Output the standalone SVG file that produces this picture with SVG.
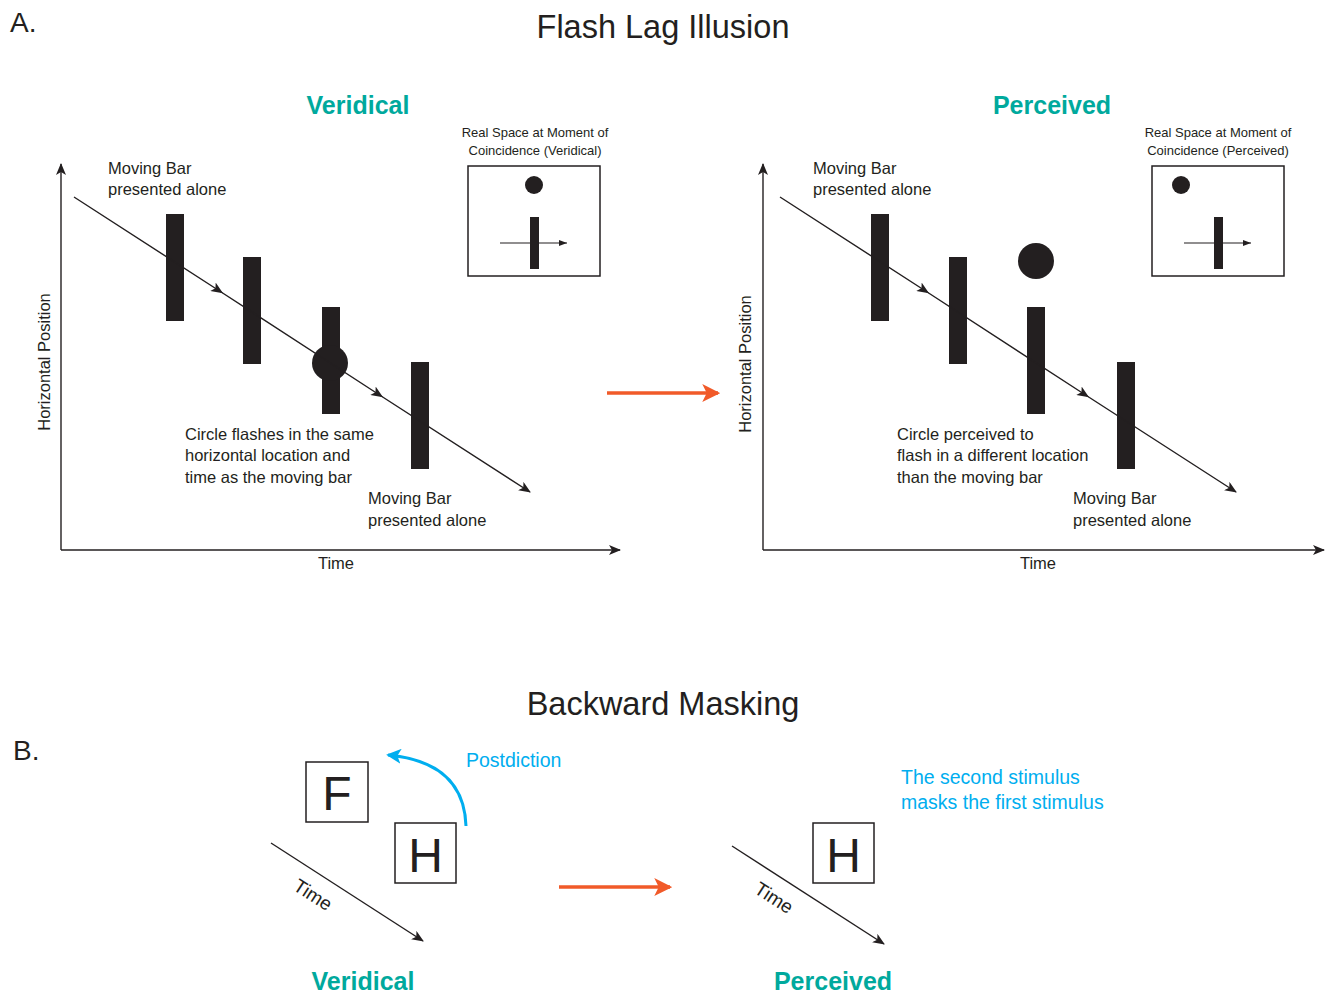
<svg xmlns="http://www.w3.org/2000/svg" width="1326" height="995" viewBox="0 0 1326 995">
<defs>
<style>
text{font-family:"Liberation Sans","Noto Sans",Arial,sans-serif;fill:#231f20}
.lbl{font-size:16.5px}
.small{font-size:13px}
.title{font-size:32.5px;text-anchor:middle}
.head{font-size:25px;font-weight:bold;fill:#00a99d;text-anchor:middle}
.blue{fill:#00aeef;font-size:19.5px}
.ln{stroke:#231f20;stroke-width:1.4;fill:none}
.bar{fill:#231f20}
.box{fill:#fff;stroke:#231f20;stroke-width:1.5}
.orange{stroke:#f15a29;stroke-width:3.5;fill:none}
.letter{font-size:48px;text-anchor:middle}
</style>
<marker id="ah" viewBox="0 0 12 10" refX="11" refY="5" markerWidth="12" markerHeight="10" markerUnits="userSpaceOnUse" orient="auto">
<path d="M0,0 L12,5 L0,10 L3,5 z" fill="#231f20"/>
</marker>
<marker id="mid" viewBox="0 0 12 10" refX="6" refY="5" markerWidth="12" markerHeight="10" markerUnits="userSpaceOnUse" orient="auto">
<path d="M0,0 L12,5 L0,10 L3,5 z" fill="#231f20"/>
</marker>
<marker id="ahs" viewBox="0 0 8 6" refX="8" refY="3" markerWidth="8" markerHeight="6" markerUnits="userSpaceOnUse" orient="auto">
<path d="M0,0 L8,3 L0,6 z" fill="#231f20"/>
</marker>
<marker id="ao" viewBox="0 0 16 16" refX="14" refY="8" markerWidth="18" markerHeight="18" markerUnits="userSpaceOnUse" orient="auto">
<path d="M0,0 L16,8 L0,16 L4,8 z" fill="#f15a29"/>
</marker>
<marker id="ab" viewBox="0 0 16 16" refX="14" refY="8" markerWidth="15" markerHeight="15" markerUnits="userSpaceOnUse" orient="auto">
<path d="M0,0 L16,8 L0,16 L4,8 z" fill="#00aeef"/>
</marker>
</defs>
<rect width="1326" height="995" fill="#fff"/>

<text x="10" y="32" style="font-size:28px">A.</text>
<text x="663" y="38" class="title">Flash Lag Illusion</text>
<text x="13" y="760" style="font-size:28px">B.</text>
<text x="663" y="715" class="title">Backward Masking</text>

<g id="panel-veridical">
<text x="358" y="114" class="head">Veridical</text>
<g id="v-axes">
<path class="ln" d="M61,550 L61,164" marker-end="url(#ah)"/>
<path class="ln" d="M61,550 L620,550" marker-end="url(#ah)"/>
<text x="336" y="569" class="lbl" text-anchor="middle">Time</text>
<text transform="translate(50,362) rotate(-90)" class="lbl" text-anchor="middle">Horizontal Position</text>
</g>
<g id="v-bars">
<rect class="bar" x="166" y="214" width="18" height="107"/>
<rect class="bar" x="243" y="257" width="18" height="107"/>
<rect class="bar" x="322" y="307" width="18" height="107"/>
<rect class="bar" x="411" y="362" width="18" height="107"/>
</g>
<circle id="v-flash" cx="330" cy="363" r="18" fill="#231f20"/>
<g id="v-texts" class="lbl">
<text x="108" y="174">Moving Bar</text>
<text x="108" y="195">presented alone</text>
<text x="185" y="440">Circle flashes in the same</text>
<text x="185" y="461">horizontal location and</text>
<text x="185" y="483">time as the moving bar</text>
<text x="368" y="504">Moving Bar</text>
<text x="368" y="526">presented alone</text>
</g>
<g id="v-inset">
<text x="535" y="137" class="small" text-anchor="middle">Real Space at Moment of</text>
<text x="535" y="155" class="small" text-anchor="middle">Coincidence (Veridical)</text>
<rect class="box" x="468" y="166" width="132" height="110"/>
<circle cx="534" cy="185" r="9" fill="#231f20"/>
<path class="ln" style="stroke-width:1.2" d="M500,243 L567,243" marker-end="url(#ahs)"/>
<rect class="bar" x="530" y="217" width="9" height="52"/>
</g>
</g>

<g id="panel-perceived">
<text x="1052" y="114" class="head">Perceived</text>
<g id="p-axes">
<path class="ln" d="M763,550 L763,164" marker-end="url(#ah)"/>
<path class="ln" d="M763,550 L1324,550" marker-end="url(#ah)"/>
<text x="1038" y="569" class="lbl" text-anchor="middle">Time</text>
<text transform="translate(751,364) rotate(-90)" class="lbl" text-anchor="middle">Horizontal Position</text>
</g>
<g id="p-bars">
<rect class="bar" x="871" y="214" width="18" height="107"/>
<rect class="bar" x="949" y="257" width="18" height="107"/>
<rect class="bar" x="1027" y="307" width="18" height="107"/>
<rect class="bar" x="1117" y="362" width="18" height="107"/>
</g>
<circle id="p-flash" cx="1036" cy="261" r="18" fill="#231f20"/>
<g id="p-texts" class="lbl">
<text x="813" y="174">Moving Bar</text>
<text x="813" y="195">presented alone</text>
<text x="897" y="440">Circle perceived to</text>
<text x="897" y="461">flash in a different location</text>
<text x="897" y="483">than the moving bar</text>
<text x="1073" y="504">Moving Bar</text>
<text x="1073" y="526">presented alone</text>
</g>
<g id="p-inset">
<text x="1218" y="137" class="small" text-anchor="middle">Real Space at Moment of</text>
<text x="1218" y="155" class="small" text-anchor="middle">Coincidence (Perceived)</text>
<rect class="box" x="1152" y="166" width="132" height="110"/>
<circle cx="1181" cy="185" r="9" fill="#231f20"/>
<path class="ln" style="stroke-width:1.2" d="M1184,243 L1251,243" marker-end="url(#ahs)"/>
<rect class="bar" x="1214" y="217" width="9" height="52"/>
</g>
</g>

<g id="masking-veridical">
<g id="box-F"><rect class="box" x="306" y="762" width="62" height="60"/><text x="337" y="810" class="letter">F</text></g>
<g id="box-H1"><rect class="box" x="395" y="823" width="61" height="60"/><text x="425.5" y="872" class="letter">H</text></g>
<text x="466" y="767" class="blue">Postdiction</text>
<text transform="translate(292,889) rotate(33)" style="font-size:19px">Time</text>
<text x="363" y="990" class="head">Veridical</text>
</g>

<g id="masking-perceived">
<g id="box-H2"><rect class="box" x="813" y="823" width="61" height="60"/><text x="843.5" y="872" class="letter">H</text></g>
<text x="901" y="784" class="blue">The second stimulus</text>
<text x="901" y="809" class="blue">masks the first stimulus</text>
<text transform="translate(753,892) rotate(33)" style="font-size:19px">Time</text>
<text x="833" y="990" class="head">Perceived</text>
</g>

<g id="connectors">
<path class="ln" d="M74,197 L218,290 L378,394 L530,492" marker-mid="url(#mid)" marker-end="url(#ah)"/>
<path class="ln" d="M780,197 L924,290 L1084,394 L1236,492" marker-mid="url(#mid)" marker-end="url(#ah)"/>
<path class="orange" d="M607,393 L718,393" marker-end="url(#ao)"/>
<path class="orange" d="M559,887 L670,887" marker-end="url(#ao)"/>
<path d="M466,826 Q464,762 388,755" stroke="#00aeef" stroke-width="3" fill="none" marker-end="url(#ab)"/>
<path class="ln" d="M271,843 L423,941" marker-end="url(#ah)"/>
<path class="ln" d="M732,846 L884,944" marker-end="url(#ah)"/>
</g>
</svg>
